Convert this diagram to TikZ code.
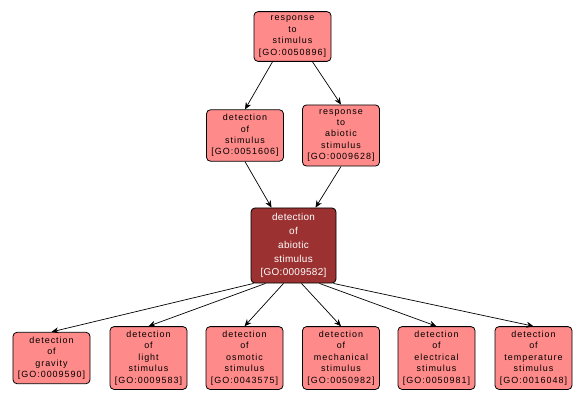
\documentclass[tikz,border=0pt]{standalone}
\usepackage{fontspec}
\setmainfont{Liberation Sans}
\newfontfamily\goterm[LetterSpace=11]{Liberation Sans}
\newfontfamily\gofocus[LetterSpace=3]{Liberation Sans}
\usetikzlibrary{arrows.meta}
\definecolor{termfill}{RGB}{255,138,138}
\definecolor{focusfill}{RGB}{155,49,49}
\begin{document}
\begin{tikzpicture}[x=1bp, y=-1bp,
  term/.style={rectangle, rounded corners=4bp, draw=black, line width=0.8bp, fill=termfill,
    align=center, minimum width=77bp, inner xsep=2bp, inner ysep=4.5bp,
    font=\goterm\fontsize{9}{11.4}\selectfont},
  focus/.style={rectangle, rounded corners=4bp, draw=black, line width=0.8bp, fill=focusfill,
    text=white, align=center, minimum width=85bp, inner xsep=2bp, inner ysep=5bp,
    font=\gofocus\fontsize{10}{14}\selectfont},
  isa/.style={line width=0.7bp, -{Stealth[length=7bp, width=6bp]}}]
\useasboundingbox (0,0) rectangle (587,402);
\node[term] (resp) at (292.5,36.5) {response\\to\\stimulus\\{[GO:0050896]}};
\node[term] (detstim) at (245,135.5) {detection\\of\\stimulus\\{[GO:0051606]}};
\node[term] (respabio) at (341,135.5) {response\\to\\abiotic\\stimulus\\{[GO:0009628]}};
\node[focus] (detabio) at (293.5,245.5) {detection\\of\\abiotic\\stimulus\\{[GO:0009582]}};
\node[term] (grav) at (51.5,358) {detection\\of\\gravity\\{[GO:0009590]}};
\node[term] (light) at (148.5,358) {detection\\of\\light\\stimulus\\{[GO:0009583]}};
\node[term] (osm) at (244.5,358) {detection\\of\\osmotic\\stimulus\\{[GO:0043575]}};
\node[term] (mech) at (341,358) {detection\\of\\mechanical\\stimulus\\{[GO:0050982]}};
\node[term] (elec) at (436.5,358) {detection\\of\\electrical\\stimulus\\{[GO:0050981]}};
\node[term] (temp) at (533.5,358) {detection\\of\\temperature\\stimulus\\{[GO:0016048]}};
\draw[isa] ([xshift=-20bp]resp.south)--(detstim.north);
\draw[isa] ([xshift=20bp]resp.south)--(respabio.north);
\draw[isa] (detstim.south)--([xshift=-22bp]detabio.north);
\draw[isa] (respabio.south)--([xshift=22bp]detabio.north);
\draw[isa] ([xshift=-40bp]detabio.south)--(grav.north);
\draw[isa] ([xshift=-28bp]detabio.south)--(light.north);
\draw[isa] ([xshift=-10bp]detabio.south)--(osm.north);
\draw[isa] ([xshift=8bp]detabio.south)--(mech.north);
\draw[isa] ([xshift=26bp]detabio.south)--(elec.north);
\draw[isa] ([xshift=40bp]detabio.south)--(temp.north);
\end{tikzpicture}
\end{document}
